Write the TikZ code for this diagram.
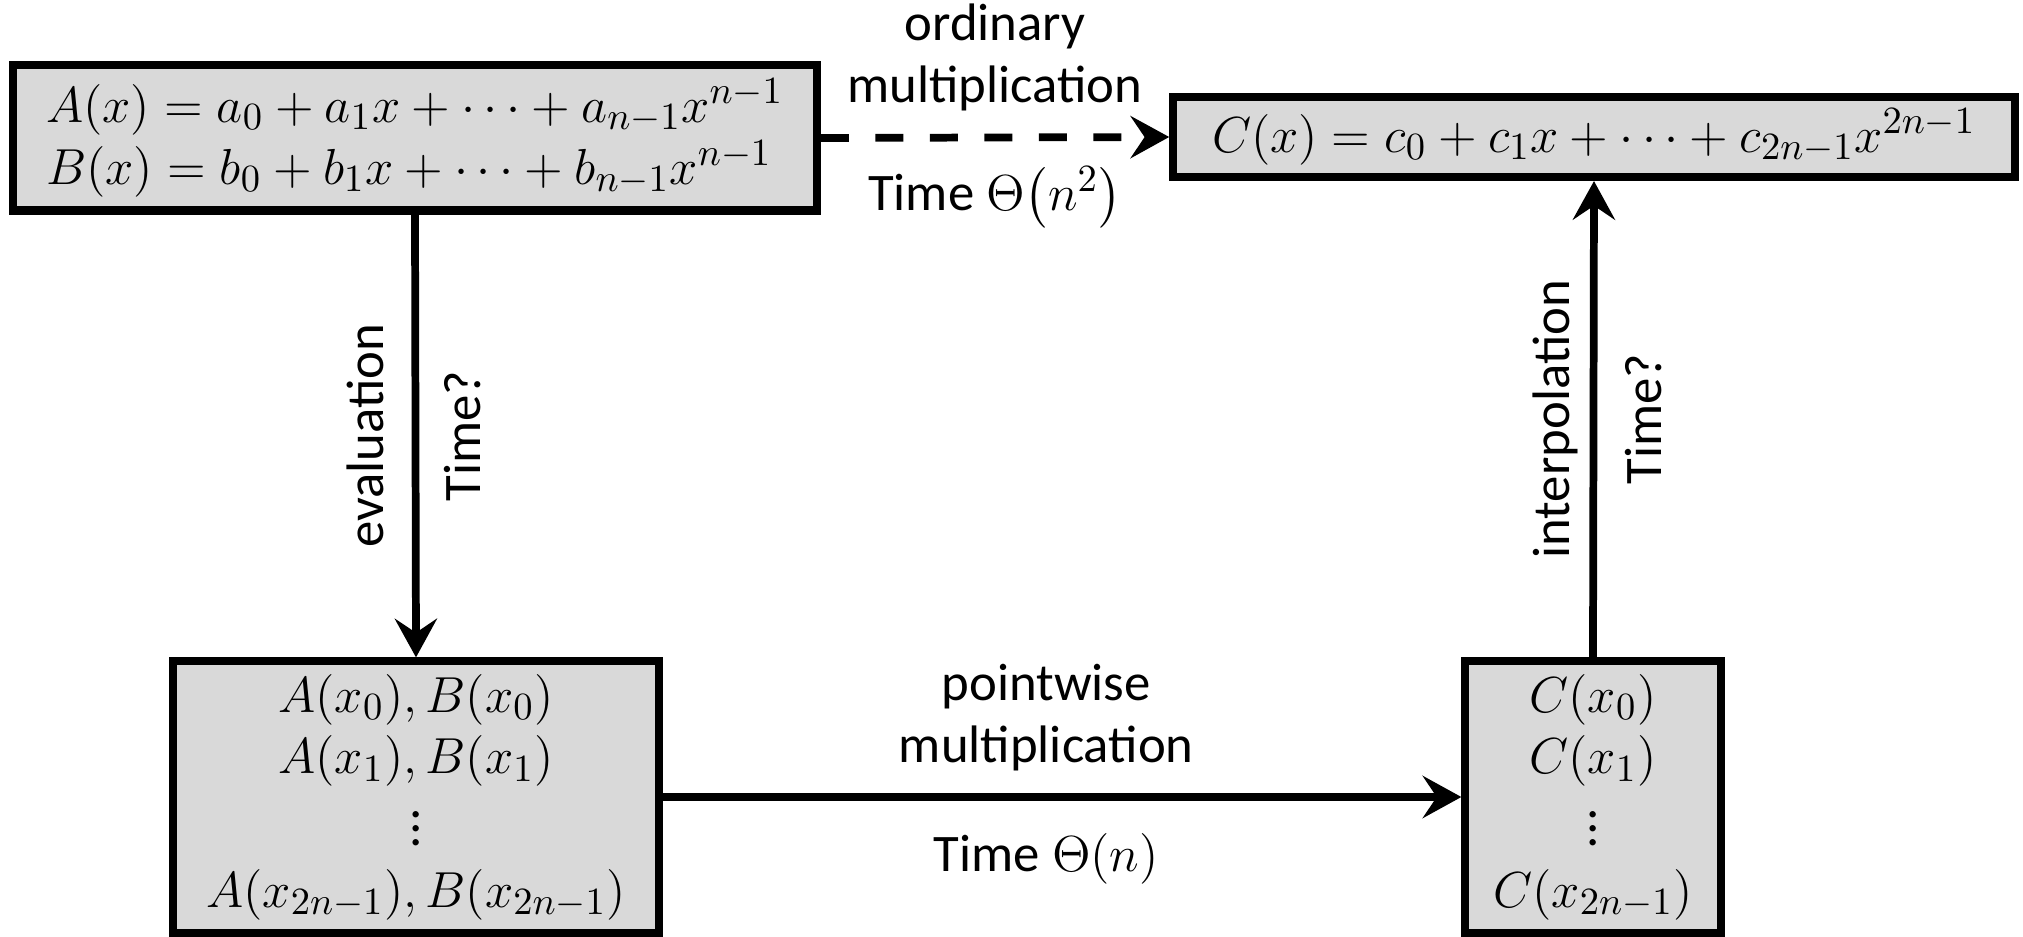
\documentclass[tikz,border=0pt]{standalone}
\usepackage[no-math]{fontspec}
\setmainfont{Carlito}
\usepackage{amsmath}
\usetikzlibrary{arrows.meta}

\tikzset{
  box/.style={draw, line width=2.3pt, fill=black!15, align=center, inner sep=0pt},
  flow/.style={line width=2.2pt, -{Stealth[length=11pt, width=12pt, inset=4pt]}},
}

\begin{document}
\begin{tikzpicture}[x=0.01cm, y=-0.01cm, font=\fontsize{15}{17.6}\selectfont]
        \useasboundingbox (0,0) rectangle (2023,937);
        \node[box, align=left, minimum width=8.03cm, minimum height=1.45cm] at (415,138) (ab)
            {$A(x) = a_0 + a_1x + \cdots + a_{n-1}x^{n-1}$\\$B(x) = b_0 + b_1x + \cdots + b_{n-1}x^{n-1}$};
        \node[box, minimum width=8.41cm, minimum height=0.80cm] at (1594,137) (c)
            {$C(x) = c_0 + c_1x + \cdots + c_{2n-1}x^{2n-1}$};
        \node[box, minimum width=4.86cm, minimum height=2.71cm] at (416,797) (pts)
            {$A(x_0), B(x_0)$\\$A(x_1), B(x_1)$\\$\vdots$\\$A(x_{2n-1}), B(x_{2n-1})$};
        \node[box, minimum width=2.55cm, minimum height=2.71cm] at (1593,797) (cpts)
            {$C(x_0)$\\$C(x_1)$\\$\vdots$\\$C(x_{2n-1})$};
        \draw[flow, dash pattern=on 8pt off 7.5pt] (ab.east) -- (c.west)
            node[midway, above=3pt, align=center] {ordinary\\multiplication}
            node[midway, below=4pt] {Time $\Theta\bigl(n^2\bigr)$};
        \draw[flow] (ab.south) -- (pts.north)
            node[midway, anchor=south, rotate=90, inner sep=8pt] {evaluation}
            node[midway, anchor=north, rotate=90, inner sep=7pt] {Time?};
        \draw[flow] (cpts.north) -- (c.south)
            node[midway, anchor=south, rotate=90] {interpolation}
            node[midway, anchor=north, rotate=90, inner sep=8pt] {Time?};
        \draw[flow] (pts.east) -- (cpts.west)
            node[pos=0.48, above=3pt, align=center] {pointwise\\multiplication}
            node[pos=0.48, below=6pt] {Time $\Theta(n)$};
\end{tikzpicture}
\end{document}
